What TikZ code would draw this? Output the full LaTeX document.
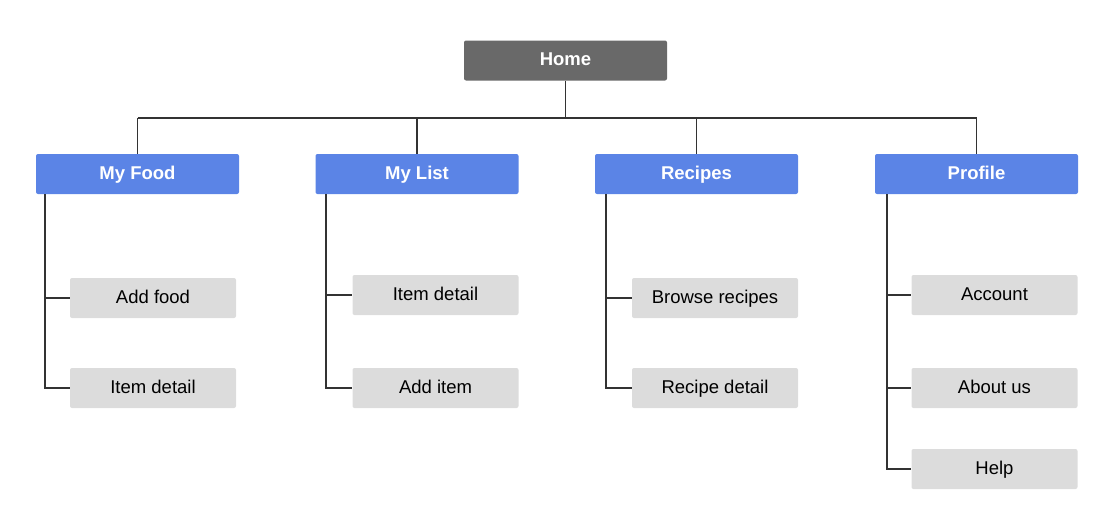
\documentclass[tikz,border=0pt]{standalone}
\usepackage{fontspec}
\setmainfont{Liberation Sans}
\definecolor{homegray}{HTML}{696969}
\definecolor{topblue}{HTML}{5B84E6}
\definecolor{leafgray}{HTML}{DCDCDC}
\definecolor{linegray}{HTML}{333333}
\tikzset{
  homebox/.style={fill=homegray, text=white, font=\bfseries\fontsize{18.5}{22}\selectfont,
    rounded corners=2pt, minimum width=203pt, minimum height=40pt, inner sep=0pt,
    text height=13.5pt, text depth=3.5pt},
  topbox/.style={homebox, fill=topblue},
  leafbox/.style={fill=leafgray, text=black, font=\fontsize{18.5}{22}\selectfont,
    rounded corners=2pt, minimum width=166pt, minimum height=40pt, inner sep=0pt,
    text height=13.5pt, text depth=3.5pt},
  tree/.style={draw=linegray, line width=1.1pt}
}
\begin{document}
\begin{tikzpicture}[x=1pt, y=-1pt]
  \useasboundingbox (0,0) rectangle (1120,530);

  \node[homebox] (home) at (565.5,60.5) {Home};
  \coordinate (bus) at (566,118);

  \node[topbox] (food) at (137.5,174) {My Food};
  \node[topbox] (list) at (417,174) {My List};
  \node[topbox] (recipes) at (696.5,174) {Recipes};
  \node[topbox] (profile) at (976.5,174) {Profile};

  % bus
  \draw[tree] (home.south) -- (home.south |- bus);
  \draw[tree] (food.north |- bus) -- (profile.north |- bus);
  \draw[tree] (food.north) -- (food.north |- bus);
  \draw[tree] (list.north) -- (list.north |- bus);
  \draw[tree] (recipes.north) -- (recipes.north |- bus);
  \draw[tree] (profile.north) -- (profile.north |- bus);

  % my food
  \node[leafbox] (addfood) at (153,298) {Add food};
  \node[leafbox] (fooddetail) at (153,388) {Item detail};
  \coordinate (foodtrunk) at (45,194);
  \draw[tree] (foodtrunk) |- (addfood.west);
  \draw[tree] (foodtrunk) |- (fooddetail.west);

  % my list
  \node[leafbox] (listdetail) at (435.5,295) {Item detail};
  \node[leafbox] (additem) at (435.5,388) {Add item};
  \coordinate (listtrunk) at (326,194);
  \draw[tree] (listtrunk) |- (listdetail.west);
  \draw[tree] (listtrunk) |- (additem.west);

  % recipes
  \node[leafbox] (browse) at (715,298) {Browse recipes};
  \node[leafbox] (recipedetail) at (715,388) {Recipe detail};
  \coordinate (recipetrunk) at (606,194);
  \draw[tree] (recipetrunk) |- (browse.west);
  \draw[tree] (recipetrunk) |- (recipedetail.west);

  % profile
  \node[leafbox] (account) at (994.5,295) {Account};
  \node[leafbox] (about) at (994.5,388) {About us};
  \node[leafbox] (help) at (994.5,469) {Help};
  \coordinate (profiletrunk) at (887,194);
  \draw[tree] (profiletrunk) |- (account.west);
  \draw[tree] (profiletrunk) |- (about.west);
  \draw[tree] (profiletrunk) |- (help.west);
\end{tikzpicture}
\end{document}
